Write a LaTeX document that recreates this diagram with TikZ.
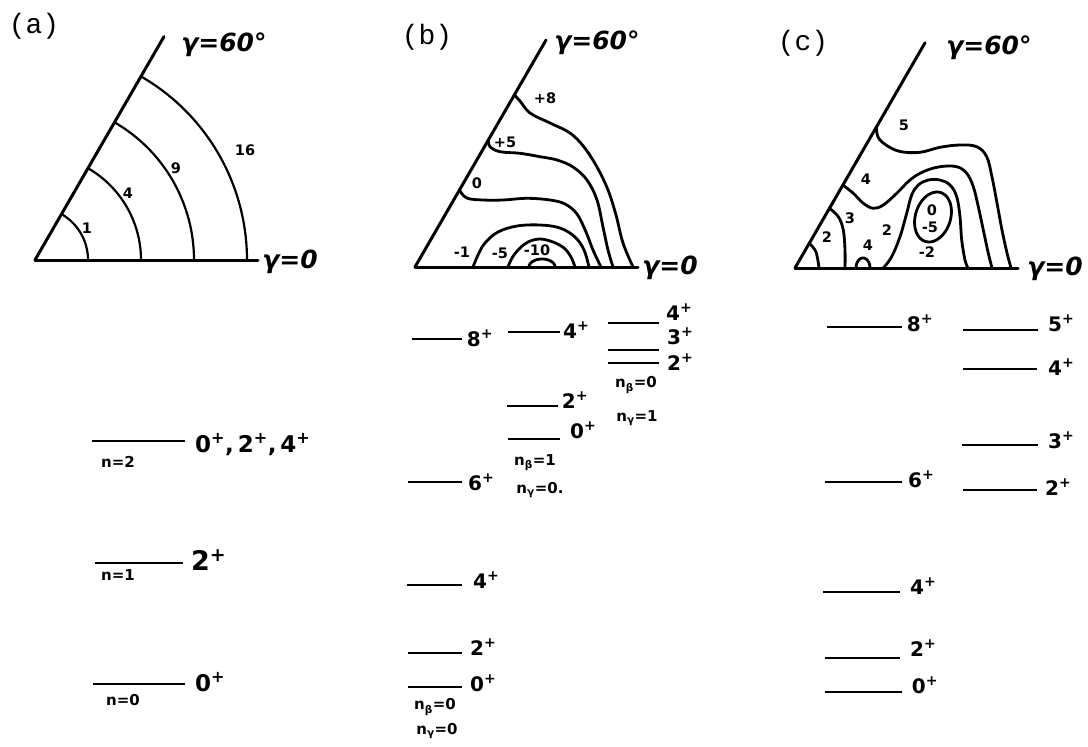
\documentclass[tikz,border=0pt]{standalone}
\usepackage{fontspec}
\setmainfont{DejaVu Sans}
\newfontfamily\typew{Liberation Mono}
\newcommand{\plev}[1]{#1\textsuperscript{+}}
\begin{document}
\begin{tikzpicture}[x=1pt,y=-1pt,
  axis/.style={line width=3pt, line cap=round},
  arcline/.style={line width=2.2pt},
  contour/.style={line width=2.8pt, line cap=round, line join=round},
  level/.style={line width=2.8pt},
  panel/.style={font=\typew\fontsize{28}{28}\selectfont, inner sep=0},
  glab/.style={font=\bfseries\itshape\fontsize{25}{25}\selectfont, inner sep=0},
  clab/.style={font=\bfseries\fontsize{14.5}{14.5}\selectfont, inner sep=0},
  llab/.style={font=\bfseries\fontsize{20}{20}\selectfont, inner sep=0, anchor=west},
  bigllab/.style={font=\bfseries\fontsize{23}{23}\selectfont, inner sep=0, anchor=west},
  nlab/.style={font=\bfseries\fontsize{15}{15}\selectfont, inner sep=0}]
\useasboundingbox (0,0) rectangle (1088,747);
\fill[white] (0,0) rectangle (1088,747);

% ---------------- panel (a) ----------------
\node[panel] (pa) at (34,26) {(a)};
\coordinate (Oa) at (35,260);
\draw[axis] (Oa) -- (258,260);
\draw[axis] (Oa) -- ++(-60:258) coordinate (Ta);
\foreach \r in {53,106,159,212}
  \draw[arcline] plot[domain=0:60, samples=50] ({35+\r*cos(\x)},{260-\r*sin(\x)});
\node[glab] (ga60) at (224,45) {γ=60°};
\node[glab] (ga0) at (290,262) {γ=0};
\node[clab] (a1) at (87,228) {1};
\node[clab] (a4) at (128,193) {4};
\node[clab] (a9) at (176,168) {9};
\node[clab] (a16) at (245,150) {16};

% ---------------- panel (b) ----------------
\node[panel] (pb) at (427,37) {(b)};
\coordinate (Ob) at (415,267);
\draw[axis] (Ob) -- (638,267);
\draw[axis] (Ob) -- ++(-60:262) coordinate (Tb);
\node[glab] (gb60) at (597,43) {γ=60°};
\node[glab] (gb0) at (670,268) {γ=0};
\draw[contour] plot[smooth, tension=0.6] coordinates {(514.3,95) (520,101) (530,113) (550,123) (570,133) (584,147) (597,167) (608,190) (616,215) (623,243) (633,267)};
\draw[contour] plot[smooth, tension=0.6] coordinates {(488.3,140) (490,146.7) (500,151.7) (520,153.3) (540,156.7) (557,160) (573,167) (587,180) (597,200) (603,227) (608,250) (613,267)};
\draw[contour] plot[smooth, tension=0.6] coordinates {(459.5,190) (466.7,198) (483,200) (503,200) (527,198.3) (550,200) (565,204) (577,214) (586,232) (593,250) (601,267)};
\draw[contour] plot[smooth, tension=0.6] coordinates {(473,267) (478,255) (485,243) (498,232) (517,226) (540,225) (560,228) (575,237) (584,250) (589,267)};
\draw[contour] plot[smooth, tension=0.6] coordinates {(508,267) (512,258) (519,249) (528,242) (540,239) (553,242) (564,248) (571,257) (575,267)};
\draw[contour] plot[domain=0:180, samples=30] ({542+13*cos(\x)},{267-8*sin(\x)});
\node[clab] (b8) at (545,98) {+8};
\node[clab] (b5) at (505,142) {+5};
\node[clab] (b0) at (477,183) {0};
\node[clab] (bm1) at (462,252) {-1};
\node[clab] (bm5) at (500,253) {-5};
\node[clab] (bm10) at (537,250) {-10};

% ---------------- panel (c) ----------------
\node[panel] (pc) at (803,43) {(c)};
\coordinate (Oc) at (795,268);
\draw[axis] (Oc) -- (1018,268);
\draw[axis] (Oc) -- ++(-60:260) coordinate (Tc);
\node[glab] (gc60) at (989,48) {γ=60°};
\node[glab] (gc0) at (1055,269) {γ=0};
\draw[contour] plot[smooth, tension=0.6] coordinates {(876.4,127) (878,137) (886,145) (900,151.5) (920,152.3) (940,147.3) (960,145) (976.7,146.7) (986.7,156.7) (992,177) (997,203) (1002,230) (1007,253) (1011,268)};
\draw[contour] plot[smooth, tension=0.6] coordinates {(842.9,185) (853.3,193.3) (863.3,203.3) (873.3,208.3) (883.3,205) (896.7,193.3) (910,180) (923.3,171.7) (940,166.7) (956.7,166.7) (966.7,173.3) (973.3,186.7) (978.3,206.7) (983.3,230) (988.3,253.3) (992,268)};
\draw[contour] plot[smooth, tension=0.6] coordinates {(883.3,268) (891.7,256.7) (900,236.7) (906.7,213.3) (911.7,195) (918.3,185) (928.3,180) (940,180) (950,185) (956.7,196.7) (960,216.7) (961.7,240) (965,260) (968,268)};
\draw[contour] plot[domain=0:360, samples=60, smooth] ({933+18*cos(\x)+4*sin(\x)},{217-25*sin(\x)});
\draw[contour] plot[smooth, tension=0.6] coordinates {(829.5,208.3) (838.3,216.7) (843.3,230) (845,250) (845,268)};
\draw[contour] plot[smooth, tension=0.6] coordinates {(809.3,243.3) (816,252) (819,268)};
\draw[contour] plot[domain=0:180, samples=30] ({863+7*cos(\x)},{268-10*sin(\x)});
\node[clab] (c5) at (904,125) {5};
\node[clab] (c4a) at (866,179) {4};
\node[clab] (c3) at (850,218) {3};
\node[clab] (c2a) at (887,230) {2};
\node[clab] (c4b) at (868,245) {4};
\node[clab] (c0) at (932,210) {0};
\node[clab] (cm5) at (930,227) {-5};
\node[clab] (cm2) at (927,252) {-2};
\node[clab] (c2b) at (827,237) {2};

% ---------------- levels (a) ----------------
\draw[level] (92,441) -- (185,441);
\draw[level] (95,563) -- (183,563);
\draw[level] (93,684) -- (185,684);
\node[bigllab] (la2) at (195,445) {\plev{0},\,\plev{2},\,\plev{4}};
\node[bigllab, font=\bfseries\fontsize{27}{27}\selectfont] (la1) at (191,560) {\plev{2}};
\node[bigllab] (la0) at (195,682) {\plev{0}};
\node[nlab] (na2) at (118,462) {n=2};
\node[nlab] (na1) at (118,575) {n=1};
\node[nlab] (na0) at (123,700) {n=0};

% ---------------- levels (b) ----------------
\draw[level] (411.7,339) -- (461.7,339);
\draw[level] (408.3,482) -- (461.7,482);
\draw[level] (406.7,585) -- (461.7,585);
\draw[level] (408,653) -- (461.7,653);
\draw[level] (408,687) -- (461.7,687);
\node[llab] (lb8) at (466.7,338) {\plev{8}};
\node[llab] (lb6) at (468,482) {\plev{6}};
\node[llab] (lb4) at (473,580) {\plev{4}};
\node[llab] (lb2) at (470,647) {\plev{2}};
\node[llab] (lb0) at (470,683) {\plev{0}};
\node[nlab] (nbb0) at (435,707) {n\textsubscript{β}=0};
\node[nlab] (nbg0) at (437,731) {n\textsubscript{γ}=0};

\draw[level] (508.3,332) -- (560,332);
\draw[level] (506.7,406) -- (558.3,406);
\draw[level] (508.3,439) -- (560,439);
\node[llab] (lb24) at (563,330) {\plev{4}};
\node[llab] (lb22) at (561.7,400) {\plev{2}};
\node[llab] (lb20) at (570,430) {\plev{0}};
\node[nlab] (nbb1) at (535,463) {n\textsubscript{β}=1};
\node[nlab] (nbg1) at (540,490) {n\textsubscript{γ}=0.};

\draw[level] (608.3,323) -- (659.3,323);
\draw[level] (608.3,350) -- (659.3,350);
\draw[level] (608.3,363) -- (659.3,363);
\node[llab] (lb34) at (666,312) {\plev{4}};
\node[llab] (lb33) at (667,336) {\plev{3}};
\node[llab] (lb32) at (667,362) {\plev{2}};
\node[nlab] (nbb2) at (636,385) {n\textsubscript{β}=0};
\node[nlab] (nbg2) at (637,418) {n\textsubscript{γ}=1};

% ---------------- levels (c) ----------------
\draw[level] (826.7,327) -- (901.7,327);
\draw[level] (825,482) -- (901.7,482);
\draw[level] (823.3,592) -- (900,592);
\draw[level] (825,658) -- (900,658);
\draw[level] (825,692) -- (901.7,692);
\node[llab] (lc8) at (906.7,323) {\plev{8}};
\node[llab] (lc6) at (908,479) {\plev{6}};
\node[llab] (lc4) at (910,586) {\plev{4}};
\node[llab] (lc2) at (910,648) {\plev{2}};
\node[llab] (lc0) at (911.7,685) {\plev{0}};

\draw[level] (963.3,330) -- (1038.3,330);
\draw[level] (963.3,369) -- (1037.3,369);
\draw[level] (961.7,445) -- (1038.3,445);
\draw[level] (963.3,490) -- (1036.7,490);
\node[llab] (lc25) at (1048,323) {\plev{5}};
\node[llab] (lc24) at (1048,367) {\plev{4}};
\node[llab] (lc23) at (1048,440) {\plev{3}};
\node[llab] (lc22) at (1045,487) {\plev{2}};
\end{tikzpicture}
\end{document}
